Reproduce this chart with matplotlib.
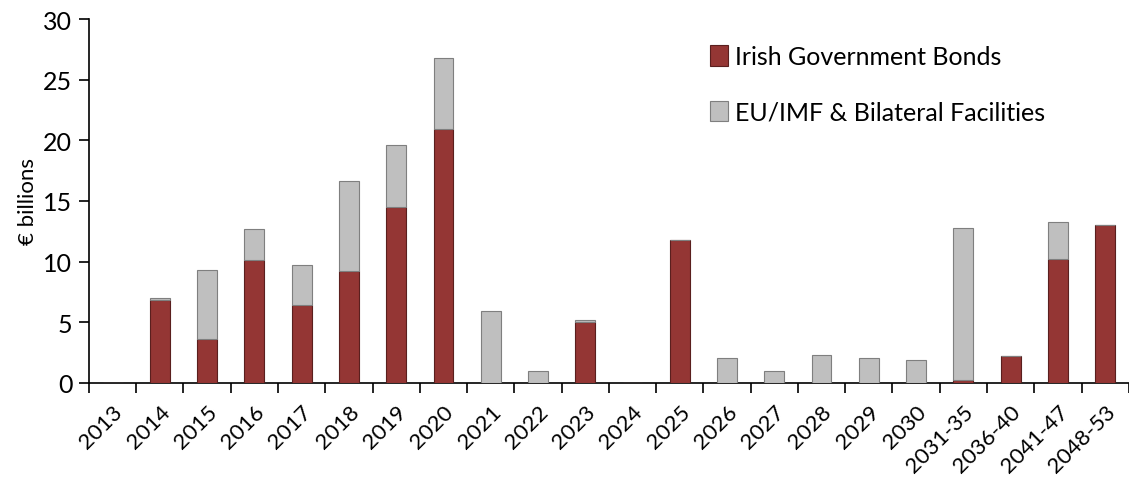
import matplotlib.pyplot as plt
import numpy as np

years = ["2013", "2014", "2015", "2016", "2017", "2018", "2019", "2020", "2021",
         "2022", "2023", "2024", "2025", "2026", "2027", "2028", "2029", "2030",
         "2031-35", "2036-40", "2041-47", "2048-53"]
bonds = [0.0, 6.8, 3.6, 10.1, 6.4, 9.25, 14.5, 20.9, 0.0,
         0.0, 5.05, 0.0, 11.8, 0.0, 0.0, 0.0, 0.0, 0.0,
         0.25, 2.2, 10.2, 13.0]
eu_imf = [0.0, 0.2, 5.7, 2.6, 3.3, 7.4, 5.15, 5.9, 5.9,
          1.0, 0.15, 0.0, 0.0, 2.03, 1.0, 2.3, 2.06, 1.92,
          12.55, 0.0, 3.1, 0.0]

plt.rcParams['font.family'] = ['Lato', 'DejaVu Sans']

fig = plt.figure(figsize=(11.29, 4.81), dpi=100)
ax = fig.add_axes([0.0788, 0.2017, 0.921, 0.7567])

x = np.arange(len(years))
ax.bar(x, bonds, width=0.42, color="#943634", edgecolor="#5a1f1e", linewidth=0.8,
       label="Irish Government Bonds", zorder=3)
ax.bar(x, eu_imf, width=0.42, bottom=bonds, color="#bfbfbf", edgecolor="#7f7f7f",
       linewidth=0.8, label="EU/IMF & Bilateral Facilities", zorder=3)

ax.set_xlim(-0.5, len(years) - 0.5)
ax.set_ylim(0, 30)
ax.set_yticks(range(0, 31, 5))
ax.tick_params(axis="y", labelsize=18, length=7, width=1.2, direction="out", pad=5)

ax.set_xticks(x)
ax.set_xticklabels(years, rotation=45, ha="right", va="top",
                   rotation_mode="anchor", fontsize=16)
ax.tick_params(axis="x", which="major", length=0, pad=13)
ax.set_xticks(np.arange(-0.5, len(years), 1), minor=True)
ax.tick_params(axis="x", which="minor", length=7, width=1.2, direction="out")

for s in ["top", "right"]:
    ax.spines[s].set_visible(False)
ax.spines["left"].set_linewidth(1.2)
ax.spines["bottom"].set_linewidth(1.2)

ax.set_ylabel("€ billions", fontsize=16, labelpad=4)

ax.legend(loc="upper left", bbox_to_anchor=(0.576, 0.99), frameon=False,
          fontsize=18, handlelength=0.7, handleheight=0.9, handletextpad=0.3,
          labelspacing=1.3)

fig.savefig("out.png", dpi=100)
